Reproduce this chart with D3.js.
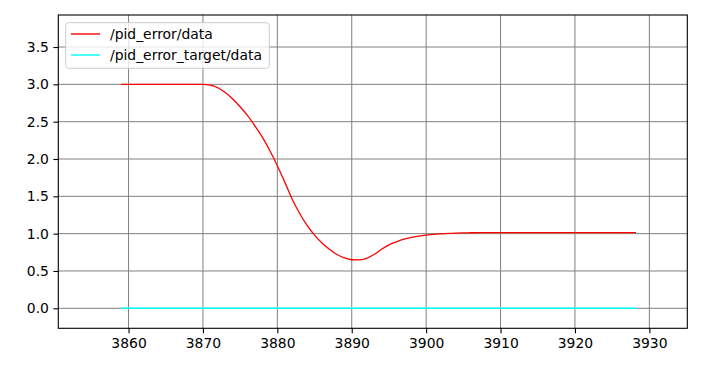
<!DOCTYPE html>
<html><head><meta charset="utf-8">
<script src="https://cdn.jsdelivr.net/npm/d3@7"></script>
<style>body{margin:0;background:#fff}svg{display:block;font-family:"DejaVu Sans",sans-serif}</style>
</head><body><div id="chart"></div>
<script>
const errX = [3859,3865,3869,3870,3871,3872,3873,3874,3875,3876,3877,3878,3879,3880,3881,3882,3883,3884,3885,3886,3887,3888,3889,3890,3891,3892,3893,3894,3895,3896,3897,3898,3899,3900,3901,3902,3903,3904,3905,3906,3907,3908,3915,3928.2];
const errY = [3.0,3.0,3.0,3.0,2.99,2.955,2.89,2.805,2.70,2.58,2.44,2.29,2.11,1.91,1.69,1.46,1.27,1.11,0.98,0.875,0.79,0.72,0.675,0.65,0.648,0.67,0.72,0.79,0.85,0.89,0.925,0.95,0.967,0.98,0.99,0.997,1.003,1.007,1.01,1.012,1.014,1.015,1.015,1.015];
const targetX = [3859,3928.3];
const targetY = [0,0];
const xTicks = [3860,3870,3880,3890,3900,3910,3920,3930];
const yTicks = [0,0.5,1.0,1.5,2.0,2.5,3.0,3.5];
const seriesNames = ["/pid_error/data","/pid_error_target/data"];
const seriesColors = ["#ff0000","#00ffff"];

const W=702,H=367;
const L=58.3,R=687.3,T=15,B=328.3;
const x=d3.scaleLinear().domain([3850.56,3935.1]).range([L,R]);
const y=d3.scaleLinear().domain([-0.268,3.929]).range([B,T]);
const svg=d3.select("#chart").append("svg").attr("width",W).attr("height",H);

// grid
svg.append("g").selectAll("line").data(xTicks).join("line")
 .attr("x1",d=>x(d)).attr("x2",d=>x(d)).attr("y1",T).attr("y2",B)
 .attr("stroke","#808080").attr("stroke-width",1);
svg.append("g").selectAll("line").data(yTicks).join("line")
 .attr("y1",d=>y(d)).attr("y2",d=>y(d)).attr("x1",L).attr("x2",R)
 .attr("stroke","#808080").attr("stroke-width",1);

const line=d3.line().x(d=>x(d[0])).y(d=>y(d[1])).curve(d3.curveMonotoneX);
svg.append("path").datum(targetX.map((v,i)=>[v,targetY[i]])).attr("d",line)
 .attr("fill","none").attr("stroke",seriesColors[1]).attr("stroke-width",1.5);
svg.append("path").datum(errX.map((v,i)=>[v,errY[i]])).attr("d",line)
 .attr("fill","none").attr("stroke",seriesColors[0]).attr("stroke-width",1.3);

// axes
const xa=svg.append("g").attr("transform",`translate(0,${B})`)
 .call(d3.axisBottom(x).tickValues(xTicks).tickSize(4.9).tickPadding(4.5).tickFormat(d3.format("d")));
const ya=svg.append("g").attr("transform",`translate(${L},0)`)
 .call(d3.axisLeft(y).tickValues(yTicks).tickSize(4.9).tickPadding(4.5).tickFormat(d3.format(".1f")));
[xa,ya].forEach(a=>{a.select(".domain").remove();a.selectAll("text").attr("font-size",13.9).attr("font-family","DejaVu Sans").attr("fill","#000");a.selectAll("line").attr("stroke","#000").attr("stroke-width",1.1);});
svg.append("rect").attr("x",L).attr("y",T).attr("width",R-L).attr("height",B-T)
 .attr("fill","none").attr("stroke","#000").attr("stroke-width",1.1);

// legend
const lg=svg.append("g");
lg.append("rect").attr("x",65.7).attr("y",22.7).attr("width",203.6).attr("height",45.6).attr("rx",3)
 .attr("fill","#fff").attr("fill-opacity",0.8).attr("stroke","#cccccc").attr("stroke-width",1);
seriesNames.forEach((n,i)=>{
 const yy=34+i*21;
 lg.append("line").attr("x1",71).attr("x2",100).attr("y1",yy).attr("y2",yy).attr("stroke",seriesColors[i]).attr("stroke-width",1.4);
 lg.append("text").attr("x",110).attr("y",yy+5).attr("font-size",13.9).attr("fill","#000").text(n);
});
</script></body></html>
